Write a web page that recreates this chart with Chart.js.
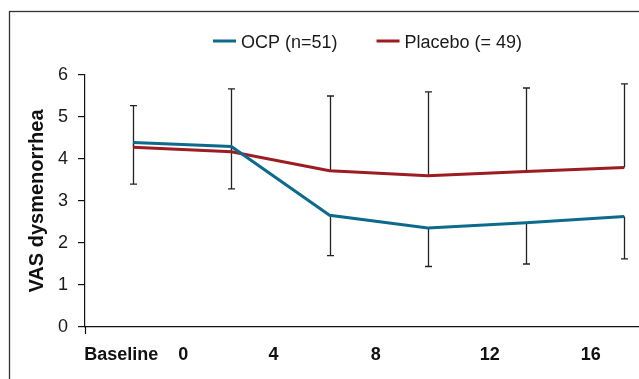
<!DOCTYPE html>
<html>
<head>
<meta charset="utf-8">
<script src="https://cdn.jsdelivr.net/npm/chart.js@4/dist/chart.umd.min.js"></script>
<style>
  html, body { margin: 0; padding: 0; background: #fff; }
  #wrap { width: 639px; height: 379px; position: relative; }
</style>
</head>
<body>
<div id="wrap"><canvas id="c" width="639" height="379"></canvas></div>
<script>
// ---- data ----
const timepoints = [0, 1, 2, 3, 4, 5];
const visitLabels = ['Baseline', '0', '4', '8', '12', '16'];
const labelPositions = [-0.12, 0.51, 1.43, 2.47, 3.63, 4.66];
const ocp = [4.39, 4.30, 2.66, 2.36, 2.48, 2.63];
const placebo = [4.28, 4.17, 3.72, 3.60, 3.70, 3.80];
const placeboUpper = [5.27, 5.67, 5.50, 5.60, 5.69, 5.79];
const ocpLower = [3.40, 3.29, 1.70, 1.44, 1.50, 1.62];
const yTicks = [0, 1, 2, 3, 4, 5, 6];
const seriesNames = ['OCP (n=51)', 'Placebo (= 49)'];

const OCP_COLOR = '#0d6a8c';
const PLA_COLOR = '#9c1c22';
const FONT = '"Liberation Sans", Arial, sans-serif';

const frameAndExtras = {
  id: 'frameAndExtras',
  beforeDraw(chart) {
    const ctx = chart.ctx;
    ctx.save();
    ctx.strokeStyle = '#333';
    ctx.lineWidth = 1.3;
    ctx.strokeRect(9.5, 11.5, 1000, 1000);
    ctx.restore();
  },
  beforeDatasetsDraw(chart) {
    const { ctx, scales: { x, y } } = chart;
    ctx.save();
    ctx.strokeStyle = '#222';
    ctx.lineWidth = 1.3;
    const cap = 3.5;
    const seg = (px, y0, y1) => {
      ctx.beginPath();
      ctx.moveTo(px, y0); ctx.lineTo(px, y1);
      ctx.moveTo(px - cap, y1); ctx.lineTo(px + cap, y1);
      ctx.stroke();
    };
    timepoints.forEach((t, i) => {
      const px = Math.round(x.getPixelForValue(t)) + 0.5;
      seg(px, y.getPixelForValue(placebo[i]), y.getPixelForValue(placeboUpper[i]));
      seg(px, y.getPixelForValue(ocp[i]), y.getPixelForValue(ocpLower[i]));
    });
    ctx.restore();
  },
  afterDraw(chart) {
    const { ctx, chartArea } = chart;
    ctx.save();
    // origin tick below x axis
    ctx.strokeStyle = '#111';
    ctx.lineWidth = 1.2;
    ctx.beginPath();
    ctx.moveTo(chartArea.left + 0.5, chartArea.bottom);
    ctx.lineTo(chartArea.left + 0.5, chartArea.bottom + 7);
    ctx.stroke();
    // legend
    ctx.font = '18px ' + FONT;
    ctx.textBaseline = 'alphabetic';
    let lx = 213;
    const ly = 41;
    chart.data.datasets.forEach((ds, i) => {
      ctx.fillStyle = ds.borderColor;
      ctx.fillRect(lx, ly - 1.5, 23, 3);
      ctx.fillStyle = '#1a1a1a';
      const tx = lx + 28;
      ctx.fillText(ds.label, tx, 48);
      lx = tx + ctx.measureText(ds.label).width + 39;
    });
    ctx.restore();
  }
};

new Chart(document.getElementById('c'), {
  type: 'line',
  data: {
    datasets: [
      { label: seriesNames[0], data: timepoints.map((t, i) => ({ x: t, y: ocp[i] })),
        borderColor: OCP_COLOR, backgroundColor: OCP_COLOR, borderWidth: 3, pointRadius: 0, tension: 0 },
      { label: seriesNames[1], data: timepoints.map((t, i) => ({ x: t, y: placebo[i] })),
        borderColor: PLA_COLOR, backgroundColor: PLA_COLOR, borderWidth: 3, pointRadius: 0, tension: 0 }
    ]
  },
  options: {
    responsive: false,
    animation: false,
    layout: { padding: { top: 75, left: 0, right: 0, bottom: 0 } },
    plugins: { legend: { display: false }, tooltip: { enabled: false } },
    scales: {
      x: {
        type: 'linear',
        min: -0.49,
        max: 5.15,
        afterBuildTicks: s => { s.ticks = labelPositions.map(v => ({ value: v })); },
        afterFit: s => { s.height = 52; },
        grid: { display: false },
        border: { display: true, color: '#111', width: 1.2 },
        ticks: {
          autoSkip: false, maxRotation: 0, padding: 9,
          color: '#111',
          font: { family: FONT, size: 18, weight: 'bold' },
          callback: (v, i) => visitLabels[i]
        }
      },
      y: {
        min: 0,
        max: 6,
        afterBuildTicks: s => { s.ticks = yTicks.map(v => ({ value: v })); },
        afterFit: s => { s.width = 85; },
        grid: { drawOnChartArea: false, drawTicks: true, tickLength: 7, color: '#111', lineWidth: 1.2 },
        border: { display: true, color: '#111', width: 1.2 },
        ticks: { padding: 10, color: '#1a1a1a', font: { family: FONT, size: 18 } },
        title: {
          display: true, text: 'VAS dysmenorrhea', color: '#111',
          font: { family: FONT, size: 20, weight: 'bold' },
          padding: { top: 25, bottom: 0 }
        }
      }
    }
  },
  plugins: [frameAndExtras]
});
</script>
</body>
</html>
